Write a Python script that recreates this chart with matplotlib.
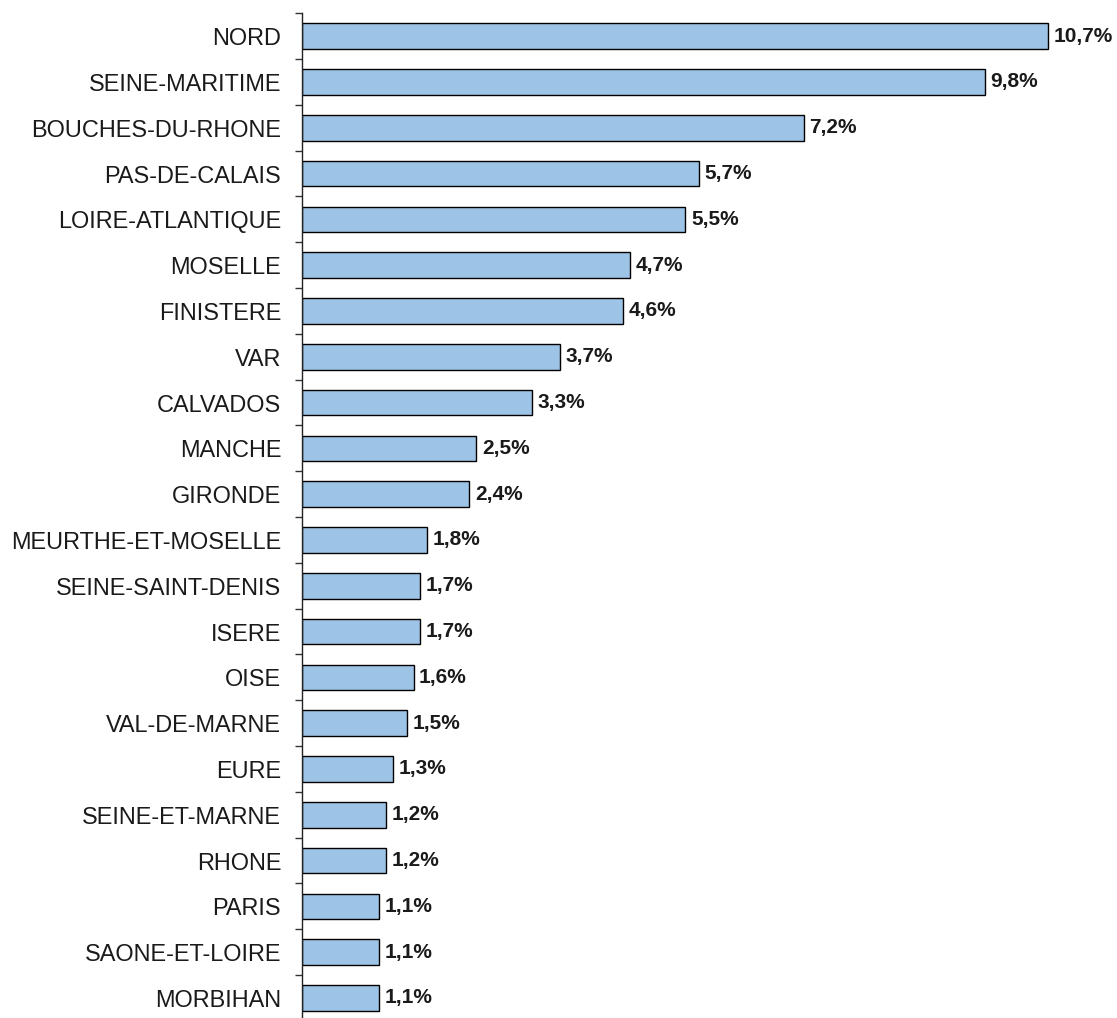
import numpy as np
import matplotlib
matplotlib.use("Agg")
import matplotlib.pyplot as plt
from matplotlib.ticker import FixedLocator

plt.rcParams['font.family'] = ['Liberation Sans', 'DejaVu Sans']

#data
departements = ["NORD", "SEINE-MARITIME", "BOUCHES-DU-RHONE", "PAS-DE-CALAIS",
                "LOIRE-ATLANTIQUE", "MOSELLE", "FINISTERE", "VAR", "CALVADOS",
                "MANCHE", "GIRONDE", "MEURTHE-ET-MOSELLE", "SEINE-SAINT-DENIS",
                "ISERE", "OISE", "VAL-DE-MARNE", "EURE", "SEINE-ET-MARNE",
                "RHONE", "PARIS", "SAONE-ET-LOIRE", "MORBIHAN"]
parts = [10.7, 9.8, 7.2, 5.7, 5.5, 4.7, 4.6, 3.7, 3.3, 2.5, 2.4,
         1.8, 1.7, 1.7, 1.6, 1.5, 1.3, 1.2, 1.2, 1.1, 1.1, 1.1]

W, H = 1117, 1018
fig = plt.figure(figsize=(W/100, H/100), dpi=100)
# axes: left spine at x=302px, top boundary at y=13px, 45.8px per row
top = 13.3
bottom = top + 45.8*len(departements)
ax = fig.add_axes([302/W, (H-bottom)/H, 1 - 302/W, (bottom-top)/H])

y = np.arange(len(departements))
ax.barh(y, parts, height=0.56, color="#9DC3E6", edgecolor="black", linewidth=1.0)

for i, v in enumerate(parts):
    ax.text(v + 0.08, i, f"{v:.1f}%".replace(".", ","), va="center", ha="left",
            fontsize=15, fontweight="bold", color="#1a1a1a")

ax.set_ylim(len(departements) - 0.5, -0.5)
ax.set_xlim(0, (W - 302)/69.7)

ax.set_yticks(y)
ax.set_yticklabels(departements, fontsize=16.9, color="#1a1a1a")
ax.yaxis.set_minor_locator(FixedLocator(np.arange(-0.5, len(departements), 1)))
ax.tick_params(axis="y", which="major", length=0, pad=15)
ax.tick_params(axis="y", which="minor", length=5, width=1, color="#333333")

ax.set_xticks([])
for s in ["top", "right", "bottom"]:
    ax.spines[s].set_visible(False)
ax.spines["left"].set_linewidth(1.0)
ax.spines["left"].set_color("#222222")

plt.savefig("out.png", dpi=100)
